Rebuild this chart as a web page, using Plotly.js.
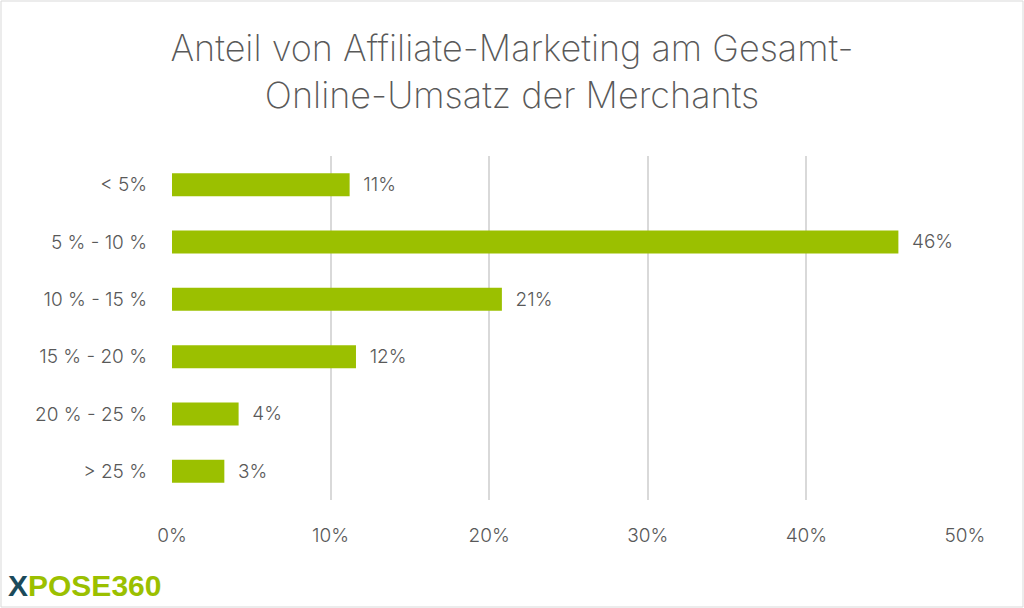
<!DOCTYPE html>
<html><head><meta charset="utf-8">
<script src="https://cdn.plot.ly/plotly-3.0.1.min.js"></script>
<style>html,body{margin:0;padding:0;background:#fff}#c{width:1024px;height:608px}</style>
</head><body><div id="c"></div>
<script>
const categories = ["< 5%", "5 % - 10 %", "10 % - 15 %", "15 % - 20 %", "20 % - 25 %", "> 25 %"];
const values = [11.2, 45.8, 20.8, 11.6, 4.2, 3.3];
const labels = ["11%", "46%", "21%", "12%", "4%", "3%"];
const tickVals = [0, 10, 20, 30, 40, 50];
const tickText = ["0%", "10%", "20%", "30%", "40%", "50%"];

const fam = "Inter, Roboto, sans-serif";
const font = {family: fam, color: "#595959", weight: 300};
const H = 344, W = 793;
Plotly.newPlot("c", [{
  type: "bar", orientation: "h",
  y: categories, x: values, text: labels, texttemplate: "  %{text}",
  textposition: "outside", cliponaxis: false,
  textfont: {size: 19, color: "#595959", family: fam, weight: 300},
  marker: {color: "#9bc000"}, width: 0.4, hoverinfo: "none"
}], {
  width: 1024, height: 608,
  margin: {l: 172, r: 59, t: 156, b: 108},
  paper_bgcolor: "#fff", plot_bgcolor: "#fff",
  font: font,
  title: {text: "Anteil von Affiliate-Marketing am Gesamt-<br>Online-Umsatz der Merchants",
    font: {size: 36, color: "#595959", family: fam, weight: 200}, x: 0.5, xanchor: "center", y: 0.9, yanchor: "top"},
  xaxis: {range: [0, 50], tickvals: tickVals, ticktext: tickText, showgrid: true,
    gridcolor: "#d9d9d9", gridwidth: 2, zeroline: false, showline: false,
    tickfont: {size: 19, color: "#595959", weight: 300}, ticklen: 0, ticks: "", ticklabelstandoff: 22},
  yaxis: {categoryorder: "array", categoryarray: categories, autorange: "reversed",
    tickfont: {size: 19, color: "#595959", weight: 300}, ticks: "", ticklen: 0, showline: false,
    ticklabelstandoff: 24},
  showlegend: false,
  shapes: [{type: "rect", xref: "paper", yref: "paper", x0: -171/W, x1: 1 + 58/W, y0: -107/H, y1: 1 + 155/H,
    line: {color: "#d9d9d9", width: 1}, fillcolor: "rgba(0,0,0,0)"}],
  annotations: [{xref: "paper", yref: "paper", x: -166/W, y: -104/H, xanchor: "left", yanchor: "bottom",
    showarrow: false, text: "<b><span style='color:#1b4a5a'>X</span>POSE360</b>",
    font: {size: 30, color: "#9bc000", family: "Liberation Sans, Arial, sans-serif"}}]
}, {displayModeBar: false, staticPlot: true});
</script></body></html>
